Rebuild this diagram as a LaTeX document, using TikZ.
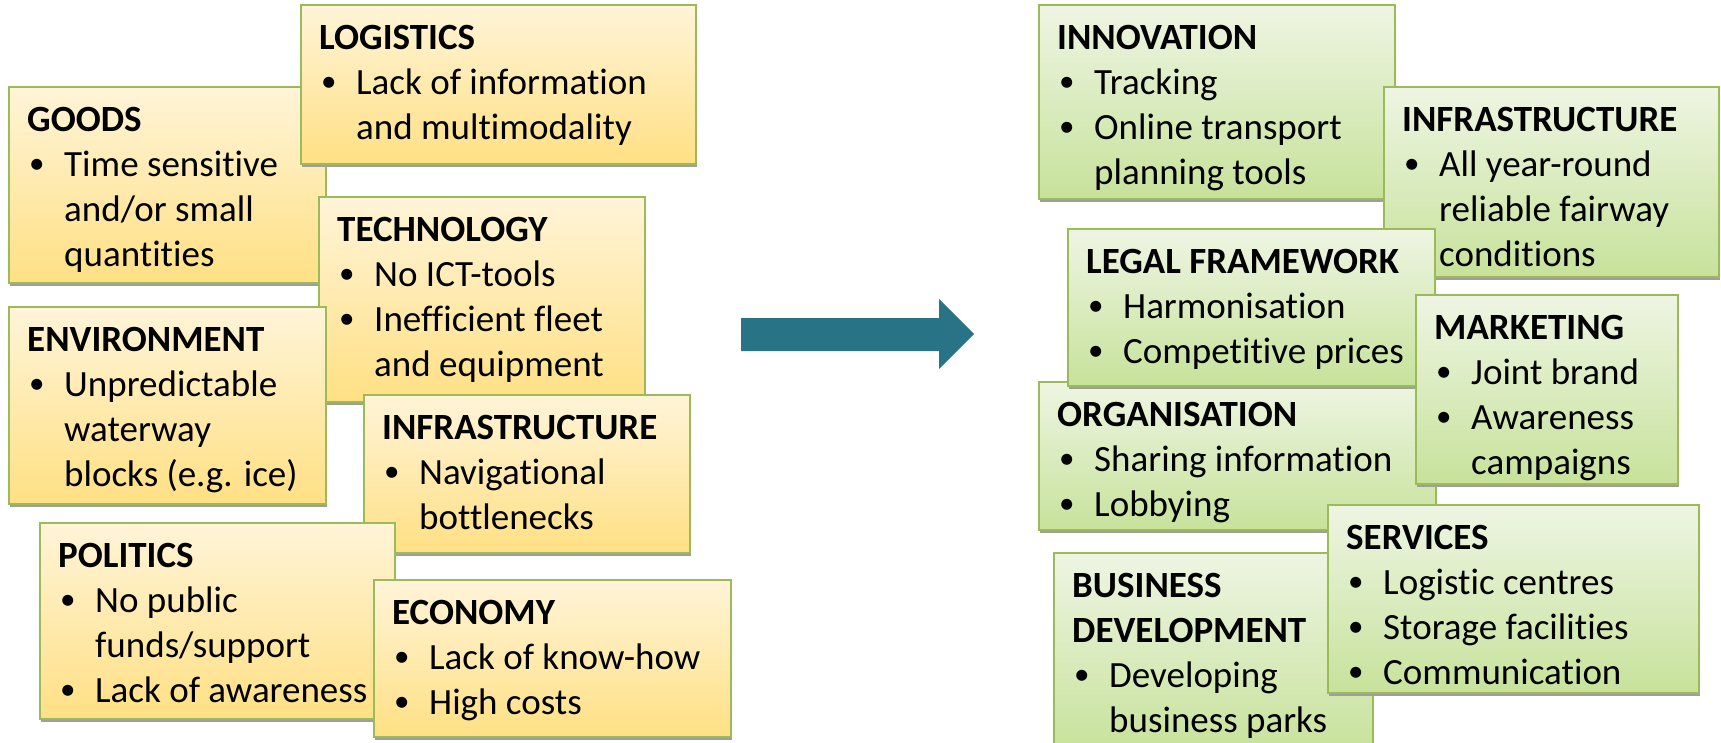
\documentclass[tikz,border=0pt]{standalone}
\usepackage{fontspec}
\setmainfont{Carlito}[Ligatures=NoCommon]
\definecolor{cardedge}{HTML}{9BBB59}
\definecolor{ytop}{HTML}{FFF4D8}
\definecolor{ybot}{HTML}{FFE084}
\definecolor{gtop}{HTML}{EEF5E3}
\definecolor{gbot}{HTML}{C7E29B}
\definecolor{arrowteal}{HTML}{287486}
% title line (with a fixed-height strut so the first baseline is known),
% bullet line, continuation line
\newcommand\ttl[1]{\rule{0pt}{30pt}\textbf{#1}}
\newcommand\itm[1]{\makebox[37pt][l]{\hspace{2pt}\raisebox{2.5pt}{\fontsize{31}{31}\selectfont\textbullet}}#1}
\newcommand\cnt[1]{\hspace*{37pt}#1}
% card: name, style, x1, y1, x2, y2, text
\newcommand\card[7]{%
  \fill[cardshadow] (#3+0.5,#4+3) rectangle (#5+0.5,#6+3);
  \draw[#2] (#3,#4) rectangle (#5,#6);
  \node[cardtext] (#1) at (#3+18,#4+14) {#7};
}
\begin{document}
\begin{tikzpicture}[x=1pt,y=-1pt,
  cardshadow/.style={fill=black!38},
  yellowcard/.style={draw=cardedge, line width=2pt, top color=ytop, bottom color=ybot},
  greencard/.style={draw=cardedge, line width=2pt, top color=gtop, bottom color=gbot},
  cardtext/.style={anchor=north west, inner sep=0pt, align=left,
    font={\fontsize{37}{45}\selectfont}},
  bigarrow/.style={fill=arrowteal}]
\useasboundingbox (0,0) rectangle (1721,742);

% problems
\card{goods}{yellowcard}{9}{87}{326}{283}{\ttl{GOODS}\\ \itm{Time sensitive}\\ \cnt{and/or small}\\ \cnt{quantities}}
\card{logistics}{yellowcard}{301}{5}{696}{164}{\ttl{LOGISTICS}\\ \itm{Lack of information}\\ \cnt{and multimodality}}
\card{technology}{yellowcard}{319}{197}{645}{402}{\ttl{TECHNOLOGY}\\ \itm{No ICT-tools}\\ \itm{Inefficient fleet}\\ \cnt{and equipment}}
\card{environment}{yellowcard}{9}{307}{326}{504}{\ttl{ENVIRONMENT}\\ \itm{Unpredictable}\\ \cnt{waterway}\\ \cnt{blocks (e.g. ice)}}
\card{infraL}{yellowcard}{364}{395}{690}{553}{\ttl{INFRASTRUCTURE}\\ \itm{Navigational}\\ \cnt{bottlenecks}}
\card{politics}{yellowcard}{40}{523}{395}{719}{\ttl{POLITICS}\\ \itm{No public}\\ \cnt{funds/support}\\ \itm{Lack of awareness}}
\card{economy}{yellowcard}{374}{580}{731}{737}{\ttl{ECONOMY}\\ \itm{Lack of know-how}\\ \itm{High costs}}

% arrow
\fill[bigarrow] (741,318) -- (939,318) -- (939,299) -- (974,334) -- (939,369) -- (939,351) -- (741,351) -- cycle;

% solutions
\card{innovation}{greencard}{1039}{5}{1395}{199}{\ttl{INNOVATION}\\ \itm{Tracking}\\ \itm{Online transport}\\ \cnt{planning tools}}
\card{infraR}{greencard}{1384}{87}{1719}{277}{\ttl{INFRASTRUCTURE}\\ \itm{All year-round}\\ \cnt{reliable fairway}\\ \cnt{conditions}}
\card{organisation}{greencard}{1039}{382}{1436}{530}{\ttl{ORGANISATION}\\ \itm{Sharing information}\\ \itm{Lobbying}}
\card{legal}{greencard}{1068}{229}{1435}{386}{\ttl{LEGAL FRAMEWORK}\\ \itm{Harmonisation}\\ \itm{Competitive prices}}
\card{marketing}{greencard}{1416}{295}{1678}{484}{\ttl{MARKETING}\\ \itm{Joint brand}\\ \itm{Awareness}\\ \cnt{campaigns}}
\card{business}{greencard}{1054}{553}{1373}{752}{\ttl{BUSINESS}\\ \ttl{DEVELOPMENT}\\ \itm{Developing}\\ \cnt{business parks}}
\card{services}{greencard}{1328}{505}{1699}{693}{\ttl{SERVICES}\\ \itm{Logistic centres}\\ \itm{Storage facilities}\\ \itm{Communication}}
\end{tikzpicture}
\end{document}
